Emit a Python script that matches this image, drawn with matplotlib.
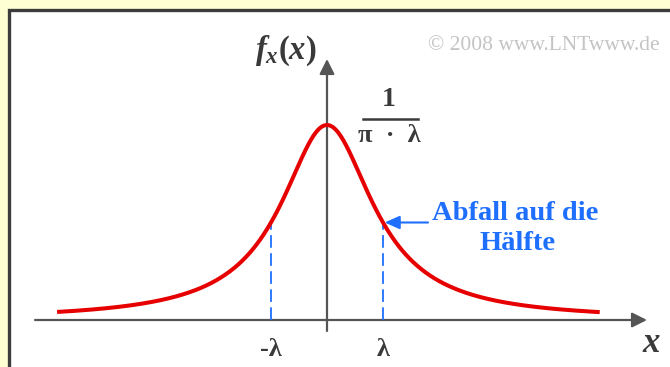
import numpy as np
import matplotlib
matplotlib.use("Agg")
import matplotlib.pyplot as plt
from matplotlib.patches import Rectangle

plt.rcParams["mathtext.fontset"] = "custom"
plt.rcParams["mathtext.it"] = "Liberation Serif:italic:bold"
plt.rcParams["mathtext.rm"] = "Liberation Serif:bold"
plt.rcParams["mathtext.bf"] = "Liberation Serif:bold"

# Cauchy density with scale lambda = 1 (x measured in units of lambda)
lam = 1.0
x_curve = np.linspace(-4.82, 4.87, 600)
f_curve = (lam / np.pi) / (lam**2 + x_curve**2)
f_peak = 1 / (np.pi * lam)
f_half = f_peak / 2

tick_pos = [-lam, lam]
tick_labels = ["-λ", "λ"]

W, H = 670, 367
fig = plt.figure(figsize=(W / 100, H / 100), dpi=100, facecolor="#FFFFD4")
ax = fig.add_axes([0, 0, 1, 1])
ax.set_axis_off()

# pixel layout: y-axis at 327 px, lambda = 56 px, baseline at 320 px, peak at 125 px
px_per_x = 56.0
x0_px = 327.0
base_px = 320.0
px_per_f = (base_px - 125.0) / f_peak
ax.set_xlim(-x0_px / px_per_x, (W - x0_px) / px_per_x)
ax.set_ylim(-(H - base_px) / px_per_f, base_px / px_per_f)

def px(xp, yp):
    """figure pixel (from top-left) -> data coords"""
    return (xp - x0_px) / px_per_x, (base_px - yp) / px_per_f

# white panel with dark frame
(x1, y1) = px(9, 10)
(x2, y2) = px(700, 400)
ax.add_patch(Rectangle((x1, y2), x2 - x1, y1 - y2, facecolor="white",
                       edgecolor="#3c3c3c", lw=2.4, zorder=0))

axis_col = "#555555"
# x axis
xa0, _ = px(35, 0)
xa1, _ = px(647, 0)
ax.annotate("", xy=(xa1, 0), xytext=(xa0, 0),
            arrowprops=dict(arrowstyle="-|>,head_length=0.9,head_width=0.45",
                            color=axis_col, lw=1.6, shrinkA=0, shrinkB=0), zorder=2)
# y axis
_, ya0 = px(0, 331)
_, ya1 = px(0, 59)
ax.annotate("", xy=(0, ya1), xytext=(0, ya0),
            arrowprops=dict(arrowstyle="-|>,head_length=0.9,head_width=0.45",
                            color=axis_col, lw=1.6, shrinkA=0, shrinkB=0), zorder=2)

# half-value markers
for xt in tick_pos:
    ax.plot([xt, xt], [0, f_half], color="#1f6fff", lw=1.3,
            dashes=(7, 3), zorder=3)

ax.plot(x_curve, f_curve, color="#e60000", lw=2.9, zorder=4,
        solid_capstyle="butt")

serif = "Liberation Serif"
txt_col = "#3a3a3a"
for xt, lab in zip(tick_pos, tick_labels):
    _, yl = px(0, 350)
    ax.text(xt, yl, lab, ha="center", va="center", fontsize=19,
            family=serif, fontweight="bold", color=txt_col)

xl, yl = px(651, 343)
ax.text(xl, yl, "x", ha="center", va="center", fontsize=25, family=serif,
        style="italic", fontweight="bold", color=txt_col)

xf, yf = px(286, 51)
ax.text(xf, yf, r"$f_x(x)$", ha="center", va="center", fontsize=23.5,
        color=txt_col)

# peak value as a fraction
xc, _ = px(389, 0)
_, yn = px(0, 100)
_, yb = px(0, 119)
_, yd = px(0, 136)
ax.text(xc, yn, "1", ha="center", va="center", fontsize=20, family=serif,
        fontweight="bold", color=txt_col)
xb0, _ = px(363, 0)
xb1, _ = px(418, 0)
ax.plot([xb0, xb1], [yb, yb], color=txt_col, lw=1.8)
ax.text(xc, yd, "π  ·  λ", ha="center", va="center", fontsize=19, family=serif,
        fontweight="bold", color=txt_col)

xcp, ycp = px(544, 45)
ax.text(xcp, ycp, "© 2008 www.LNTwww.de", ha="center", va="center",
        fontsize=15.5, family=serif, color="#c4c4c4")

# annotation for the half-height point
blue = "#1f6fff"
xt1, yt1 = px(515, 213)
ax.text(xt1, yt1, "Abfall auf die", ha="center", va="center", fontsize=20.5,
        family=serif, fontweight="bold", color=blue)
xt2, yt2 = px(518, 244)
ax.text(xt2, yt2, "Hälfte", ha="center", va="center", fontsize=20.5,
        family=serif, fontweight="bold", color=blue)
xs, _ = px(428, 0)
ax.annotate("", xy=(lam + 0.03, f_half), xytext=(xs, f_half),
            arrowprops=dict(arrowstyle="-|>,head_length=0.9,head_width=0.4",
                            color=blue, lw=1.5, shrinkA=0, shrinkB=0), zorder=5)

fig.savefig("out.png", dpi=100, facecolor=fig.get_facecolor())
